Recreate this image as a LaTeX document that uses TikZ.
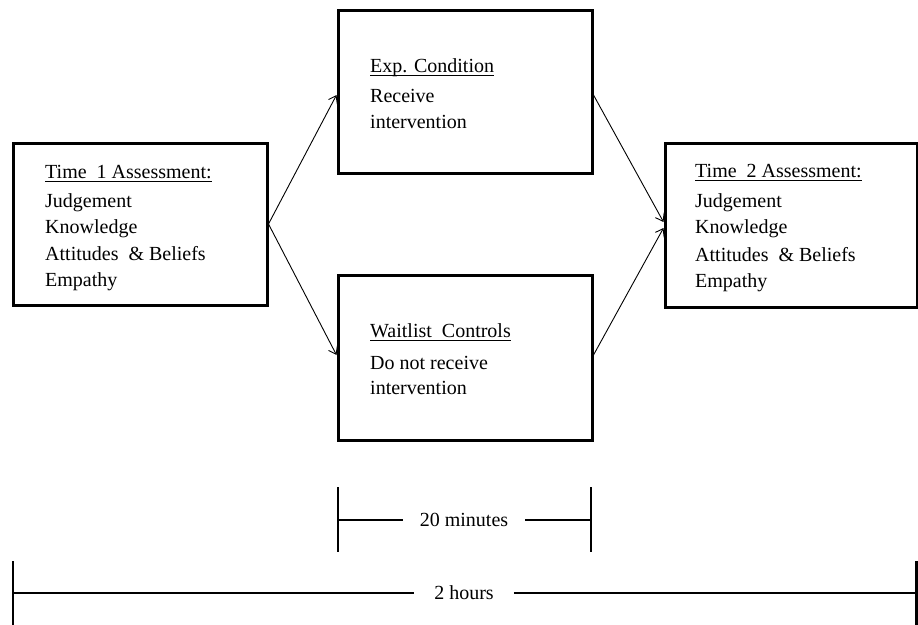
\documentclass[tikz,border=0pt]{standalone}
\usepackage{fontspec}
\setmainfont{Liberation Serif}
\usetikzlibrary{arrows.meta}
\newcommand\ulhead[1]{\setbox0\hbox{#1}\rlap{\rule[-3.6pt]{\wd0}{1.1pt}}\box0}
\newcommand\gap{\hspace{0.5em}}
\begin{document}
\begin{tikzpicture}[x=1pt,y=-1pt,
  box/.style={draw=black, line width=3pt, inner sep=0pt},
  txt/.style={anchor=base west, inner sep=0pt, font=\fontsize{20}{24}\selectfont},
  arr/.style={line width=0.9pt, -{Straight Barb[length=7pt,width=10pt]}},
  bar/.style={line width=2.2pt},
  lab/.style={font=\fontsize{20}{24}\selectfont, inner ysep=0pt, inner xsep=17pt}]
\path[use as bounding box] (0,0) rectangle (918,624);

% boxes
\node[box, minimum width=254pt, minimum height=162pt] (L) at (140,224) {};
\node[box, minimum width=254pt, minimum height=163pt] (T) at (465,91.5) {};
\node[box, minimum width=254pt, minimum height=165pt] (B) at (465,357.5) {};
\node[box, minimum width=252pt, minimum height=164pt] (R) at (791,225) {};

% left box text
\node[txt] (l0) at (45,178) {\ulhead{Time\gap 1 Assessment:}};
\node[txt] (l1) at (45,207) {Judgement};
\node[txt] (l2) at (45,233) {Knowledge};
\node[txt] (l3) at (45,260) {Attitudes\gap \& Beliefs};
\node[txt] (l4) at (45,286) {Empathy};

% right box text
\node[txt] (r0) at (695,177) {\ulhead{Time\gap 2 Assessment:}};
\node[txt] (r1) at (695,207) {Judgement};
\node[txt] (r2) at (695,233) {Knowledge};
\node[txt] (r3) at (695,261) {Attitudes\gap \& Beliefs};
\node[txt] (r4) at (695,287) {Empathy};

% top box text
\node[txt] (t0) at (370,72) {\ulhead{Exp. Condition}};
\node[txt] (t1) at (370,102) {Receive};
\node[txt] (t2) at (370,128) {intervention};

% bottom box text
\node[txt] (b0) at (370,337) {\ulhead{Waitlist\gap Controls}};
\node[txt] (b1) at (370,369) {Do not receive};
\node[txt] (b2) at (370,394) {intervention};

% arrows
\draw[arr] (L.east) -- ([yshift=-3.5pt]T.west);
\draw[arr] (L.east) -- ([yshift=2.5pt]B.west);
\draw[arr] ([yshift=-3.5pt]T.east) -- ([yshift=3pt]R.west);
\draw[arr] ([yshift=2.5pt]B.east) -- ([yshift=-3pt]R.west);

% 20 minutes bracket
\coordinate (m1a) at (338,487);
\coordinate (m1b) at (338,552);
\coordinate (m2a) at (591,487);
\coordinate (m2b) at (591,552);
\draw[bar] (m1a) -- (m1b);
\draw[bar] (m2a) -- (m2b);
\node[lab] (mins) at (464,520) {20 minutes};
\draw[bar] (m1a |- mins.west) -- (mins.west);
\draw[bar] (mins.east) -- (m2a |- mins.east);

% 2 hours bracket
\coordinate (h1a) at (13,561);
\coordinate (h1b) at (13,630);
\coordinate (h2a) at (916.5,561);
\coordinate (h2b) at (916.5,630);
\draw[bar] (h1a) -- (h1b);
\draw[bar] (h2a) -- (h2b);
\node[lab, inner xsep=20pt] (hrs) at (464,593) {2 hours};
\draw[bar] (h1a |- hrs.west) -- (hrs.west);
\draw[bar] (hrs.east) -- (h2a |- hrs.east);
\end{tikzpicture}
\end{document}
